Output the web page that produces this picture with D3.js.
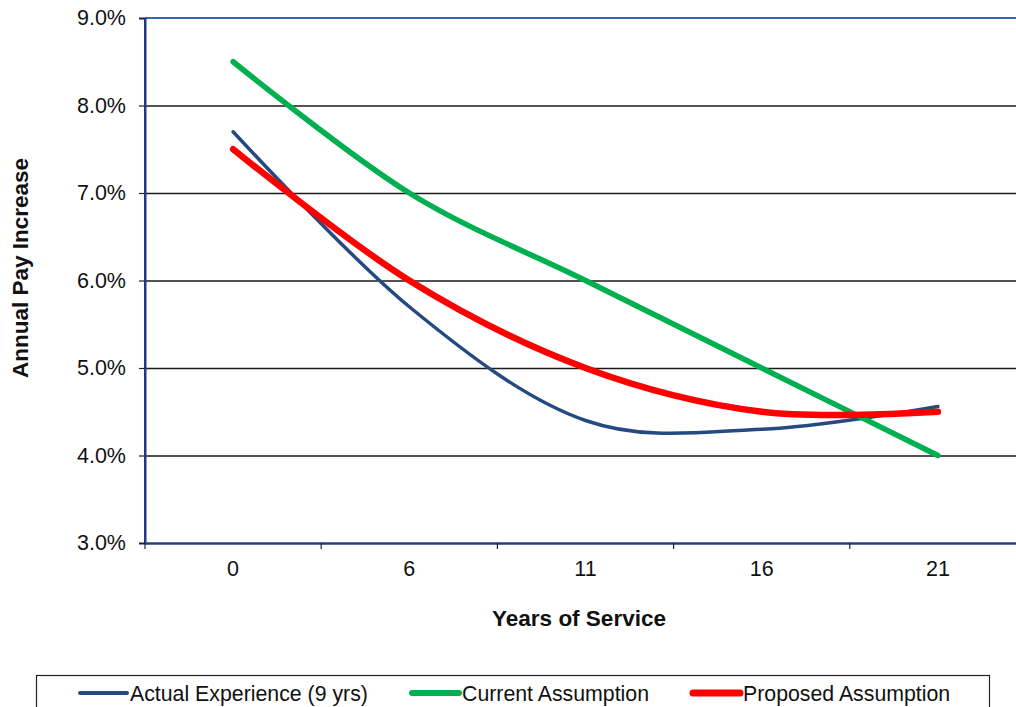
<!DOCTYPE html>
<html>
<head>
<meta charset="utf-8">
<script src="https://cdn.jsdelivr.net/npm/d3@7"></script>
<style>
  html, body { margin: 0; padding: 0; background: #fff; }
  svg { display: block; font-family: Arial, "Liberation Sans", sans-serif; }
</style>
</head>
<body>
<svg id="chart" width="1016" height="707"></svg>
<script>
// Years of service categories and annual pay increase (%) per series
const years = ["0", "6", "11", "16", "21"];
const actualExperience = [7.7, 5.7, 4.4, 4.3, 4.56];
const currentAssumption = [8.5, 7.0, 6.0, 5.0, 4.0];
const proposedAssumption = [7.5, 6.0, 5.0, 4.5, 4.5];
const yTicks = [3, 4, 5, 6, 7, 8, 9];
const seriesNames = ["Actual Experience (9 yrs)", "Current Assumption", "Proposed Assumption"];

const series = [
  { name: seriesNames[0], values: actualExperience, color: "#254a82", width: 3.5, legendWidth: 4 },
  { name: seriesNames[1], values: currentAssumption, color: "#00b050", width: 5.5, legendWidth: 6 },
  { name: seriesNames[2], values: proposedAssumption, color: "#ff0000", width: 6.5, legendWidth: 7 }
];

const svg = d3.select("#chart");
const plot = { left: 145, right: 1026, top: 18, bottom: 543 };

const x = d3.scaleBand().domain(years).range([plot.left, plot.right]);
const y = d3.scaleLinear().domain([3, 9]).range([plot.bottom, plot.top]);
const cx = d => x(d) + x.bandwidth() / 2;

// horizontal gridlines
svg.append("g")
  .selectAll("line")
  .data(yTicks.filter(t => t > 3 && t < 9))
  .join("line")
  .attr("x1", plot.left).attr("x2", plot.right)
  .attr("y1", d => y(d) + 0.5).attr("y2", d => y(d) + 0.5)
  .attr("stroke", "#1a1a1a").attr("stroke-width", 1.3);

// top border of plot area
svg.append("line")
  .attr("x1", plot.left).attr("x2", plot.right)
  .attr("y1", y(9)).attr("y2", y(9))
  .attr("stroke", "#3f62b8").attr("stroke-width", 2);

// y axis
const yAxis = d3.axisLeft(y)
  .tickValues(yTicks)
  .tickFormat(d => d3.format(".1f")(d) + "%")
  .tickSize(6).tickPadding(13);
const gy = svg.append("g").attr("transform", `translate(${plot.left},0)`).call(yAxis);
gy.select(".domain").attr("stroke", "#22378a").attr("stroke-width", 2);
gy.selectAll(".tick line").attr("stroke", "#222").attr("stroke-width", 1.2);
gy.selectAll(".tick text")
  .attr("font-size", 21.5).attr("fill", "#111")
  .attr("font-family", "Arial, 'Liberation Sans', sans-serif");

// x axis: ticks between categories, labels at centers
const xAxis = d3.axisBottom(x).tickSize(0).tickPadding(18);
const gx = svg.append("g").attr("transform", `translate(0,${plot.bottom})`).call(xAxis);
gx.select(".domain").attr("stroke", "#2b3c7e").attr("stroke-width", 2.4);
gx.selectAll(".tick text")
  .attr("font-size", 21.5).attr("fill", "#111")
  .attr("font-family", "Arial, 'Liberation Sans', sans-serif");
gx.selectAll(".tick line").remove();
svg.append("g")
  .selectAll("line")
  .data(years)
  .join("line")
  .attr("x1", d => x(d)).attr("x2", d => x(d))
  .attr("y1", plot.bottom).attr("y2", plot.bottom + 6)
  .attr("stroke", "#222").attr("stroke-width", 1.2);

// left axis line drawn again on top of gridlines
svg.append("line")
  .attr("x1", plot.left).attr("x2", plot.left)
  .attr("y1", plot.top).attr("y2", plot.bottom)
  .attr("stroke", "#22378a").attr("stroke-width", 2);

// series lines (smoothed)
const line = d3.line()
  .x((d, i) => cx(years[i]))
  .y(d => y(d))
  .curve(d3.curveCardinal.tension(0));

svg.append("g")
  .selectAll("path")
  .data(series)
  .join("path")
  .attr("d", s => line(s.values))
  .attr("fill", "none")
  .attr("stroke", s => s.color)
  .attr("stroke-width", s => s.width)
  .attr("stroke-linecap", "round")
  .attr("stroke-linejoin", "round");

// axis titles
svg.append("text")
  .attr("x", 579).attr("y", 626)
  .attr("text-anchor", "middle")
  .attr("font-size", 22.5).attr("font-weight", "bold").attr("fill", "#111")
  .text("Years of Service");

svg.append("text")
  .attr("transform", "translate(28,268) rotate(-90)")
  .attr("text-anchor", "middle")
  .attr("font-size", 22.5).attr("font-weight", "bold").attr("fill", "#111")
  .text("Annual Pay Increase");

// legend
svg.append("rect")
  .attr("x", 36.5).attr("y", 675.5)
  .attr("width", 953).attr("height", 60)
  .attr("fill", "none").attr("stroke", "#222").attr("stroke-width", 1.2);

const legendX = [80, 412, 693];
const legend = svg.append("g")
  .selectAll("g")
  .data(series)
  .join("g")
  .attr("transform", (s, i) => `translate(${legendX[i]},693)`);
legend.append("line")
  .attr("x1", 0).attr("x2", 47)
  .attr("y1", 0).attr("y2", 0)
  .attr("stroke", s => s.color)
  .attr("stroke-width", s => s.legendWidth)
  .attr("stroke-linecap", "round");
legend.append("text")
  .attr("x", 50).attr("y", 7.5)
  .attr("font-size", 21.3).attr("fill", "#111")
  .text(s => s.name);
</script>
</body>
</html>
